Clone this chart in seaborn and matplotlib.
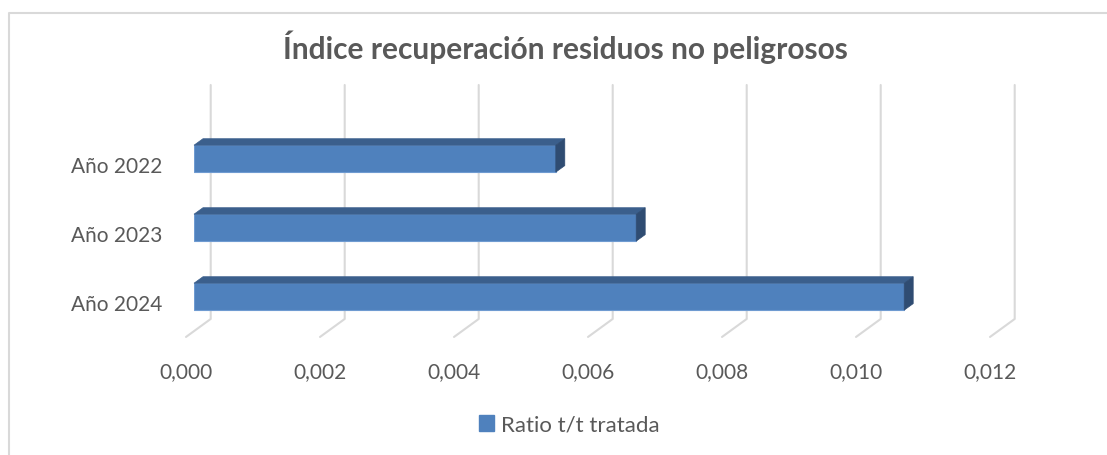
import seaborn as sns
import matplotlib.pyplot as plt
from matplotlib.transforms import ScaledTranslation, IdentityTransform
from matplotlib.patches import Polygon, Patch
from matplotlib.lines import Line2D

years = ["Año 2022", "Año 2023", "Año 2024"]
ratio = [0.0054, 0.0066, 0.0106]
xticks = [0.000, 0.002, 0.004, 0.006, 0.008, 0.010, 0.012]
xtick_labels = ["0,000", "0,002", "0,004", "0,006", "0,008", "0,010", "0,012"]
series_name = "Ratio t/t tratada"
title = "Índice recuperación residuos no peligrosos"

W, H = 1107, 455
front = "#4f81bd"
top_col = "#3b5f8c"
side_col = "#2f4c72"
grid_col = "#d9d9d9"
txt = "#595959"

sns.set_style("white")
plt.rcParams['font.family'] = ['Lato', 'DejaVu Sans']

fig = plt.figure(figsize=(W / 100, H / 100), dpi=100)
# axes placed in pixels: front plane x=0 at 194px, 67px per 0.001
ax = fig.add_axes([194 / W, (H - 340) / H, 804 / W, 260 / H])
sns.barplot(x=ratio, y=years, orient="h", width=0.39, color=front,
            saturation=1, ax=ax, zorder=3, edgecolor="#6f9bd1", linewidth=0.8)
ax.set_xlim(0, 0.012)
ax.set_ylim(2.628, -1.14)
for s in ax.spines.values():
    s.set_visible(False)
ax.set_xlabel("")
ax.set_ylabel("")

fig.canvas.draw()
tr = ax.transData

# depth offsets in pixels (x, y up)
bar_d = (9, 6.5)
back_d = (16.7, 12)
floor_d = (-8, -6)
floor_y = 2.497
wall_top = -0.894

# back wall grid lines and floor diagonals
for t in xticks:
    (xb, yb) = tr.transform((t, floor_y))
    (_, yt) = tr.transform((t, wall_top))
    ax.add_line(Line2D([xb + back_d[0], xb + back_d[0], xb + floor_d[0]],
                       [yt + back_d[1], yb + back_d[1], yb + floor_d[1]],
                       transform=IdentityTransform(), color=grid_col, lw=1.5,
                       clip_on=False, zorder=1))

# 3D faces of bars
for p in ax.patches:
    x0, y0 = p.get_x(), p.get_y()
    w, h = p.get_width(), p.get_height()
    (xl, ya) = tr.transform((x0, y0))
    (xr, yc) = tr.transform((x0 + w, y0 + h))
    ytop, ybot = max(ya, yc), min(ya, yc)
    dx, dy = bar_d
    ax.add_patch(Polygon([(xl, ytop), (xr, ytop), (xr + dx, ytop + dy), (xl + dx, ytop + dy)],
                         closed=True, facecolor=top_col, edgecolor=top_col, lw=0.5,
                         transform=IdentityTransform(), clip_on=False, zorder=4))
    ax.add_patch(Polygon([(xr, ybot), (xr, ytop), (xr + dx, ytop + dy), (xr + dx, ybot + dy)],
                         closed=True, facecolor=side_col, edgecolor=side_col, lw=0.5,
                         transform=IdentityTransform(), clip_on=False, zorder=4))

ax.set_xticks(xticks, xtick_labels)
ax.tick_params(axis="x", length=0, pad=16, labelsize=15, labelcolor=txt)
ax.tick_params(axis="y", length=0, pad=23, labelsize=15, labelcolor=txt)
for lab in ax.get_xticklabels():
    lab.set_transform(lab.get_transform() + ScaledTranslation(-8 / 100, 0, fig.dpi_scale_trans))
for lab in ax.get_yticklabels():
    lab.set_transform(lab.get_transform() + ScaledTranslation(0, -6 / 100, fig.dpi_scale_trans))

fig.text(565 / W, (H - 59) / H, title, ha="center", va="baseline",
         fontsize=21.5, fontweight="bold", color=txt)

fig.legend(handles=[Patch(facecolor=front, edgecolor=front, label=series_name)],
           loc="center", bbox_to_anchor=(569 / W, 30 / H), frameon=False,
           fontsize=16, labelcolor=txt, handlelength=0.7, handleheight=0.7,
           handletextpad=0.3)

# chart area border (left and top edges visible)
fig.add_artist(Line2D([8.5 / W, 8.5 / W, 1.0], [0, (H - 13) / H, (H - 13) / H],
                      transform=fig.transFigure, color=grid_col, lw=1.5))

fig.savefig("out.png", dpi=100)
